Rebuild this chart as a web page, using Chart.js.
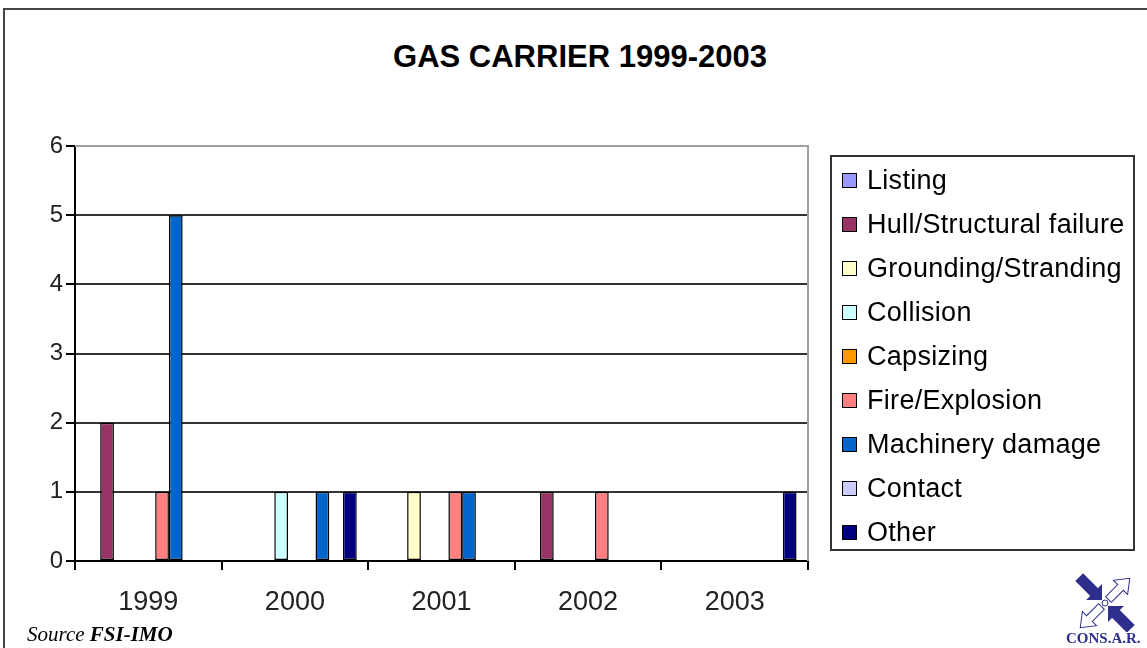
<!DOCTYPE html>
<html>
<head>
<meta charset="utf-8">
<script src="https://cdn.jsdelivr.net/npm/chart.js@4.4.1/dist/chart.umd.min.js"></script>
<style>
  html, body { margin: 0; padding: 0; background: #fff; }
  body { width: 1147px; height: 648px; position: relative; overflow: hidden; font-family: "Liberation Sans", Arial, sans-serif; }
  #frame { position: absolute; left: 3px; top: 8px; width: 1200px; height: 700px; border-top: 2px solid #444; border-left: 2px solid #444; }
  #title { position: absolute; left: 380px; top: 37px; width: 400px; text-align: center; font: bold 31px "Liberation Sans", Arial, sans-serif; line-height: 40px; color: #000; }
  #chart { position: absolute; left: 0; top: 0; }
  #legend { position: absolute; left: 830px; top: 155px; width: 301px; height: 392px; border: 2px solid #333; }
  .item { position: absolute; left: 0; height: 30px; line-height: 30px; font-size: 27px; letter-spacing: 0.3px; color: #000; white-space: nowrap; }
  .sw { position: absolute; left: 10px; top: 8px; width: 13px; height: 13px; border: 1px solid #000; }
  .lbl { position: absolute; left: 35px; top: 0; }
  #source { position: absolute; left: 27px; top: 622px; font: italic 21px "Liberation Serif", "Times New Roman", serif; color: #000; }
  #logo { position: absolute; left: 1060px; top: 568px; }
  #logotext { position: absolute; left: 1066px; top: 630px; font: bold 15px "Liberation Serif", serif; color: #2e2e8c; }
</style>
</head>
<body>
<div id="frame"></div>
<div id="title">GAS CARRIER 1999-2003</div>
<canvas id="chart" width="1147" height="648"></canvas>
<div id="legend"></div>
<div id="source">Source <b>FSI-IMO</b></div>
<svg id="logo" width="86" height="64" viewBox="0 0 86 64">
  <g transform="translate(45,35)">
    <g transform="rotate(-135)"><polygon points="5,0 15,-10 15,-5 36,-5 36,5 15,5 15,10" fill="#2e2e8c" stroke="#2e2e8c"/></g>
    <g transform="rotate(45)"><polygon points="5,0 15,-10 15,-5 36,-5 36,5 15,5 15,10" fill="#2e2e8c" stroke="#2e2e8c"/></g>
    <g transform="rotate(-45)"><polygon points="5,-4 22,-4 22,-10 35,0 22,10 22,4 5,4" fill="#fff" stroke="#2e2e8c"/></g>
    <g transform="rotate(135)"><polygon points="5,-4 22,-4 22,-10 35,0 22,10 22,4 5,4" fill="#fff" stroke="#2e2e8c"/></g>
    <circle cx="0" cy="0" r="3" fill="#fff" stroke="#2e2e8c"/>
  </g>
</svg>
<div id="logotext">CONS.A.R.</div>
<script>
const years = ['1999', '2000', '2001', '2002', '2003'];
const listing = [0, 0, 0, 0, 0];
const hull = [2, 0, 0, 1, 0];
const grounding = [0, 0, 1, 0, 0];
const collision = [0, 1, 0, 0, 0];
const capsizing = [0, 0, 0, 0, 0];
const fire = [1, 0, 1, 1, 0];
const machinery = [5, 1, 1, 0, 0];
const contact = [0, 0, 0, 0, 0];
const other = [0, 1, 0, 0, 1];
const yTicks = [0, 1, 2, 3, 4, 5, 6];

const series = [
  ['Listing', listing, '#9999FF'],
  ['Hull/Structural failure', hull, '#993366'],
  ['Grounding/Stranding', grounding, '#FFFFCC'],
  ['Collision', collision, '#CCFFFF'],
  ['Capsizing', capsizing, '#FF9900'],
  ['Fire/Explosion', fire, '#FF8080'],
  ['Machinery damage', machinery, '#0066CC'],
  ['Contact', contact, '#CCCCFF'],
  ['Other', other, '#000080']
];

// plot frame: grey top and right edge like the excel plot area
const plotFrame = {
  id: 'plotFrame',
  beforeDatasetsDraw(chart) {
    const { ctx, chartArea: a } = chart;
    ctx.save();
    ctx.strokeStyle = '#a0a0a0';
    ctx.lineWidth = 2;
    ctx.beginPath();
    ctx.moveTo(a.left, a.top);
    ctx.lineTo(a.right, a.top);
    ctx.lineTo(a.right, a.bottom);
    ctx.stroke();
    ctx.restore();
  }
};

const chart = new Chart(document.getElementById('chart'), {
  type: 'bar',
  data: {
    labels: years,
    datasets: series.map(s => ({
      label: s[0],
      data: s[1],
      backgroundColor: s[2],
      borderColor: '#000',
      borderWidth: 1.5,
      borderSkipped: false,
      categoryPercentage: 0.844,
      barPercentage: 1
    }))
  },
  options: {
    responsive: false,
    animation: false,
    layout: { padding: { top: 146, right: 339, bottom: 0, left: 0 } },
    plugins: {
      legend: { display: false },
      title: { display: false },
      tooltip: { enabled: false }
    },
    scales: {
      x: {
        afterFit: s => { s.height = 87; },
        border: { color: '#000', width: 2 },
        grid: { display: true, drawOnChartArea: false, offset: true, tickLength: 9, color: '#000', lineWidth: 2 },
        ticks: { color: '#222', font: { family: '"Liberation Sans", Arial, sans-serif', size: 27 }, padding: 16 }
      },
      y: {
        min: 0,
        max: 6,
        afterFit: s => { s.width = 75; },
        afterBuildTicks: s => { s.ticks = yTicks.map(v => ({ value: v })); },
        border: { color: '#000', width: 2 },
        grid: {
          tickLength: 9,
          lineWidth: 2,
          color: c => (c.tick && c.tick.value === 6) ? '#a0a0a0' : '#333',
          tickColor: '#000'
        },
        ticks: { color: '#222', font: { family: '"Liberation Sans", Arial, sans-serif', size: 24 }, padding: 3 }
      }
    }
  },
  plugins: [plotFrame]
});

// legend box built from the chart's datasets
const legend = document.getElementById('legend');
chart.data.datasets.forEach((ds, i) => {
  const item = document.createElement('div');
  item.className = 'item';
  item.style.top = (8 + i * 44) + 'px';
  item.innerHTML = '<span class="sw" style="background:' + ds.backgroundColor + '"></span><span class="lbl">' + ds.label + '</span>';
  legend.appendChild(item);
});
</script>
</body>
</html>
